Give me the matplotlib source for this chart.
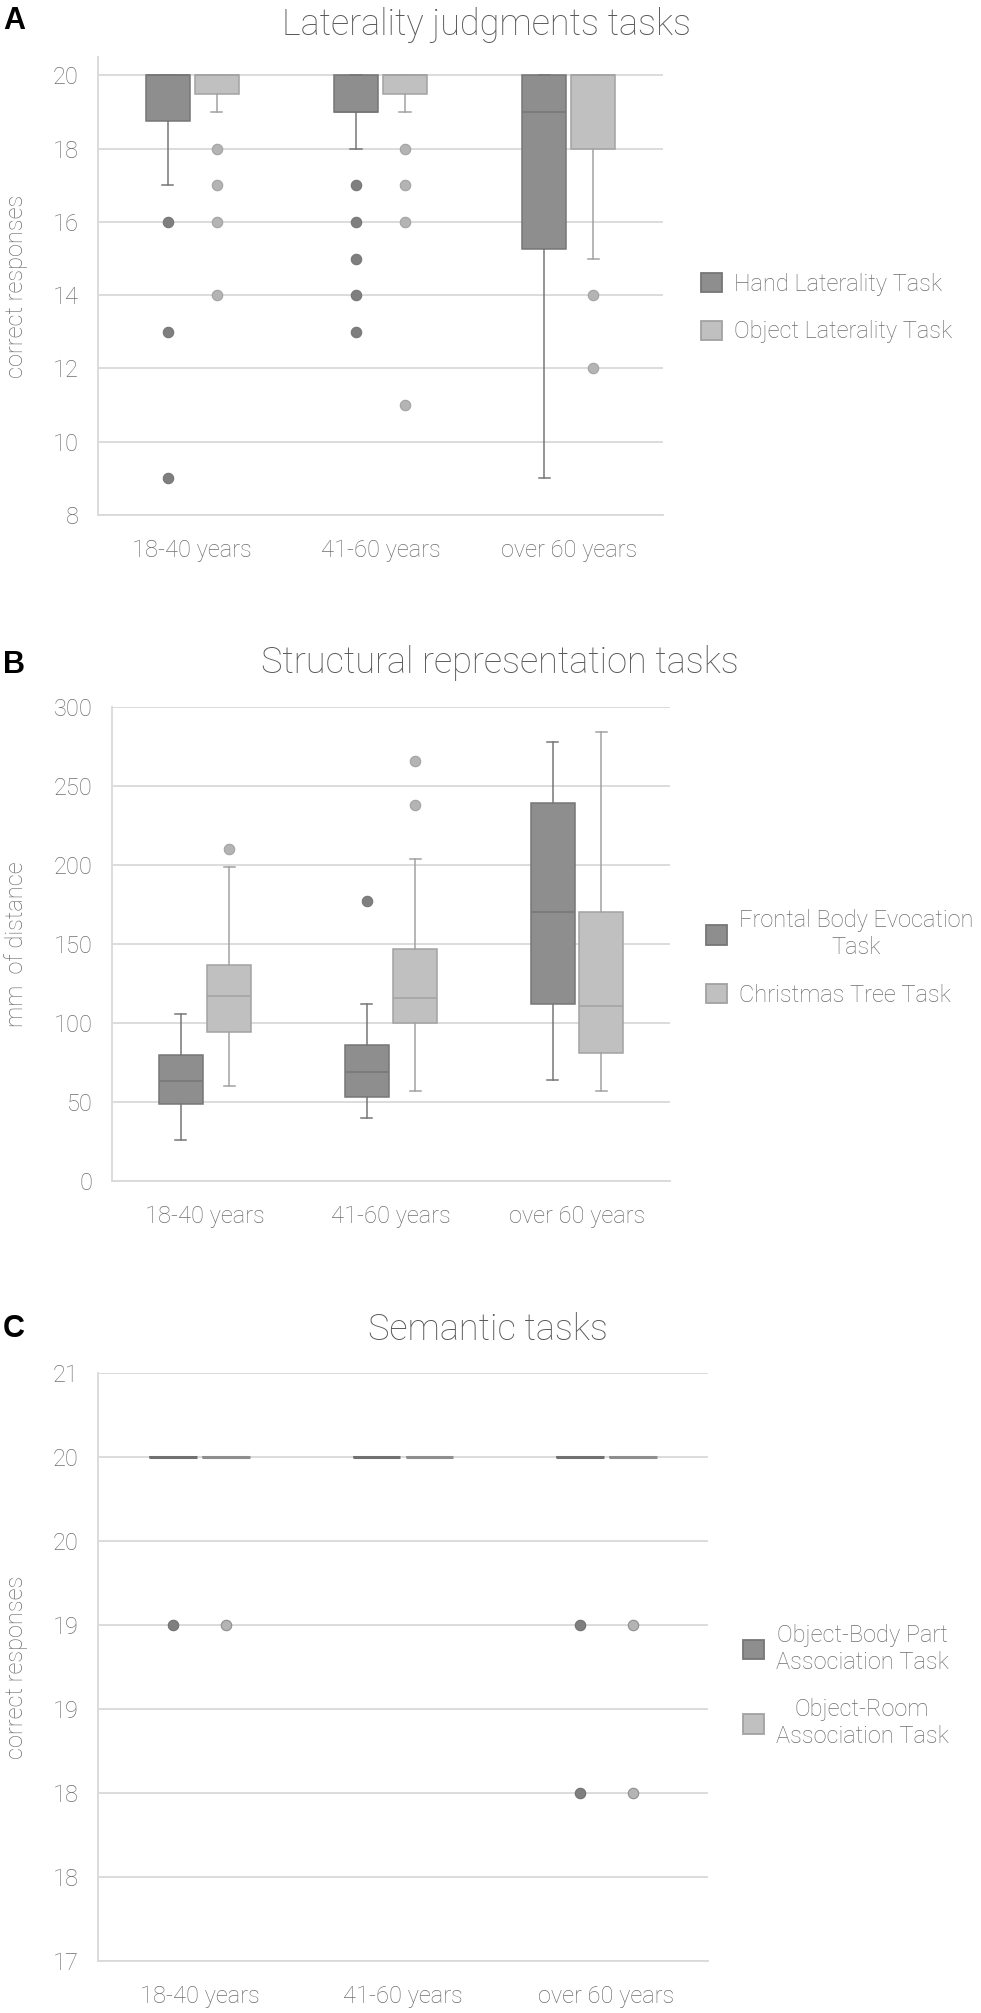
import numpy as np
import matplotlib.pyplot as plt
from matplotlib.patches import Patch

plt.rcParams['font.family'] = ['Roboto', 'DejaVu Sans']
plt.rcParams['font.weight'] = 'light'
plt.rcParams['axes.labelweight'] = 'light'

groups = ['18-40 years', '41-60 years', 'over 60 years']

# A - laterality judgments (correct responses)
hand_q1 = [18.75, 19, 15.25]
hand_med = [20, 19, 19]
hand_q3 = [20, 20, 20]
hand_lo = [17, 18, 9]
hand_hi = [20, 20, 20]
hand_out = [[16, 13, 9], [17, 16, 15, 14, 13], []]

obj_q1 = [19.5, 19.5, 18]
obj_med = [20, 20, 20]
obj_q3 = [20, 20, 20]
obj_lo = [19, 19, 15]
obj_hi = [20, 20, 20]
obj_out = [[18, 17, 16, 14], [18, 17, 16, 11], [14, 12]]

# B - structural representation (mm of distance)
front_q1 = [49, 53, 112]
front_med = [63, 69, 170]
front_q3 = [80, 86, 239]
front_lo = [26, 40, 64]
front_hi = [106, 112, 278]
front_out = [[], [177], []]

tree_q1 = [94, 100, 81]
tree_med = [117, 116, 111]
tree_q3 = [137, 147, 170]
tree_lo = [60, 57, 57]
tree_hi = [199, 204, 284]
tree_out = [[210], [266, 238], []]

# C - semantic tasks (correct responses)
body_q1 = [20, 20, 20]
body_med = [20, 20, 20]
body_q3 = [20, 20, 20]
body_lo = [20, 20, 20]
body_hi = [20, 20, 20]
body_out = [[19], [], [19, 18]]

room_q1 = [20, 20, 20]
room_med = [20, 20, 20]
room_q3 = [20, 20, 20]
room_lo = [20, 20, 20]
room_hi = [20, 20, 20]
room_out = [[19], [], [19, 18]]

yt_c = [17, 17.5, 18, 18.5, 19, 19.5, 20, 20.5]
yt_c_labels = ['17', '18', '18', '19', '19', '20', '20', '21']

DARK_F, DARK_E, DARK_P = '#8e8e8e', '#767676', '#7f7f7f'
LIGHT_F, LIGHT_E, LIGHT_P = '#c0c0c0', '#a2a2a2', '#b4b4b4'
GRID = '#d9d9d9'
TXT = '#6e6e6e'
FS = 17


def stats(q1, med, q3, lo, hi, out):
    return [dict(q1=a, med=b, q3=c, whislo=d, whishi=e, fliers=f)
            for a, b, c, d, e, f in zip(q1, med, q3, lo, hi, out)]


def draw(ax, st, x, fc, ec, pc, medlw=1.1):
    ax.bxp(st, positions=x, widths=0.235, capwidths=0.06, patch_artist=True,
           manage_ticks=False,
           boxprops=dict(facecolor=fc, edgecolor=ec, linewidth=1.1),
           medianprops=dict(color=ec, linewidth=medlw),
           whiskerprops=dict(color=ec, linewidth=1.1),
           capprops=dict(color=ec, linewidth=1.1),
           flierprops=dict(marker='o', markersize=7.5, markerfacecolor=pc,
                           markeredgecolor=ec, markeredgewidth=0.8))


def style(ax, ylab, labx):
    x = np.arange(len(groups))
    ax.set_xlim(-0.5, 2.5)
    ax.set_xticks(x)
    ax.set_xticklabels(groups)
    for s in ['top', 'right']:
        ax.spines[s].set_visible(False)
    for s in ['left', 'bottom']:
        ax.spines[s].set_color(GRID)
        ax.spines[s].set_linewidth(1.3)
    ax.yaxis.grid(True, color=GRID, linewidth=1.3)
    ax.set_axisbelow(True)
    ax.tick_params(axis='both', length=0, labelsize=FS, colors=TXT)
    ax.tick_params(axis='y', pad=14)
    ax.tick_params(axis='x', pad=17)
    ax.set_ylabel(ylab, fontsize=FS, color=TXT, fontweight='light')
    ax.yaxis.set_label_coords(labx, 0.5)


def legend(ax, labels, x, y, fig):
    h = [Patch(facecolor=DARK_F, edgecolor=DARK_E, linewidth=1.3),
         Patch(facecolor=LIGHT_F, edgecolor=LIGHT_E, linewidth=1.3)]
    leg = ax.legend(h, labels, loc='center left', bbox_to_anchor=(x, y),
                    bbox_transform=fig.transFigure, frameon=False, fontsize=FS,
                    handlelength=0.88, handleheight=0.88, handletextpad=0.5,
                    labelspacing=1.05, borderpad=0, borderaxespad=0,
                    labelcolor=TXT)
    for t in leg.get_texts():
        t.set_multialignment('center')


fig = plt.figure(figsize=(9.81, 20.13), dpi=100)
W, H = 981, 2013

x = np.arange(len(groups))
off = 0.13

# panel A
axA = fig.add_axes([98 / W, 1 - 515 / H, 565 / W, 458 / H])
draw(axA, stats(hand_q1, hand_med, hand_q3, hand_lo, hand_hi, hand_out), x - off, DARK_F, DARK_E, DARK_P)
draw(axA, stats(obj_q1, obj_med, obj_q3, obj_lo, obj_hi, obj_out), x + off, LIGHT_F, LIGHT_E, LIGHT_P)
style(axA, 'correct responses', -0.124)
axA.set_ylim(8, 20.5)
axA.set_yticks(np.arange(8, 21, 2))
legend(axA, ['Hand Laterality Task', 'Object Laterality Task'], 701 / W, 1 - 308 / H, fig)

# panel B
axB = fig.add_axes([112 / W, 1 - 1181 / H, 558 / W, 474 / H])
draw(axB, stats(front_q1, front_med, front_q3, front_lo, front_hi, front_out), x - off, DARK_F, DARK_E, DARK_P)
draw(axB, stats(tree_q1, tree_med, tree_q3, tree_lo, tree_hi, tree_out), x + off, LIGHT_F, LIGHT_E, LIGHT_P)
style(axB, 'mm  of distance', -0.151)
axB.set_ylim(0, 300)
axB.set_yticks(np.arange(0, 301, 50))
legend(axB, ['Frontal Body Evocation\nTask', 'Christmas Tree Task'], 706 / W, 1 - 958 / H, fig)

# panel C
axC = fig.add_axes([98 / W, 1 - 1961 / H, 610 / W, 588 / H])
draw(axC, stats(body_q1, body_med, body_q3, body_lo, body_hi, body_out), x - off, DARK_F, '#707070', DARK_P, medlw=2.2)
draw(axC, stats(room_q1, room_med, room_q3, room_lo, room_hi, room_out), x + off, LIGHT_F, '#8e8e8e', LIGHT_P, medlw=2.2)
style(axC, 'correct responses', -0.115)
axC.set_ylim(17, 20.5)
axC.set_yticks(yt_c)
axC.set_yticklabels(yt_c_labels)
legend(axC, ['Object-Body Part\nAssociation Task', 'Object-Room\nAssociation Task'], 743 / W, 1 - 1686 / H, fig)

# titles and panel letters
fig.text(487 / W, 1 - 35 / H, 'Laterality judgments tasks', ha='center', va='baseline', fontsize=26, color='#595959')
fig.text(500 / W, 1 - 673 / H, 'Structural representation tasks', ha='center', va='baseline', fontsize=26, color='#595959')
fig.text(488 / W, 1 - 1340 / H, 'Semantic tasks', ha='center', va='baseline', fontsize=26, color='#595959')
for lab, yb in [('A', 29), ('B', 673), ('C', 1337)]:
    fig.text(3 / W, 1 - yb / H, lab, ha='left', va='baseline', fontsize=22,
             fontweight='bold', family=['Liberation Sans', 'DejaVu Sans'], color='black')

fig.savefig('out.png', dpi=100)
